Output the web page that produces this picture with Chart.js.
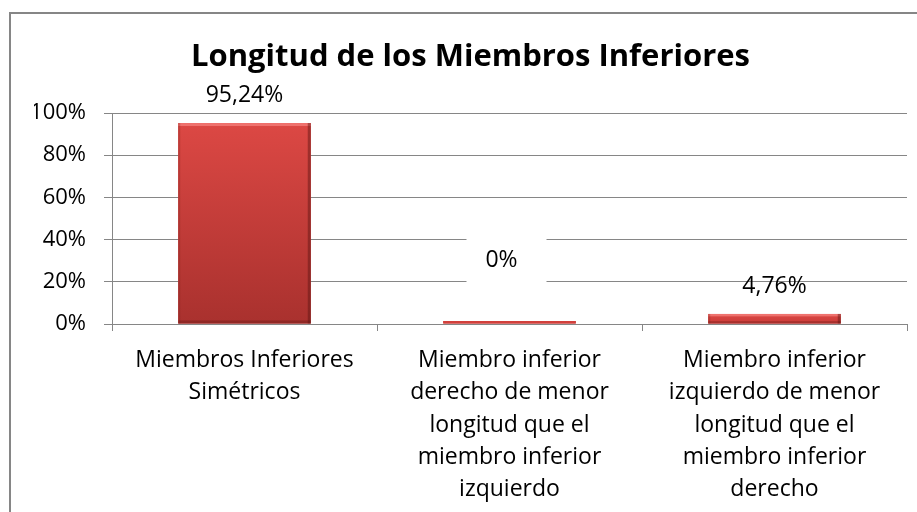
<!DOCTYPE html>
<html>
<head>
<meta charset="utf-8">
<script src="https://cdn.jsdelivr.net/npm/chart.js@4/dist/chart.umd.min.js"></script>
<style>
  html, body { margin: 0; padding: 0; background: #fff; }
  #c { display: block; }
</style>
</head>
<body>
<canvas id="c" width="917" height="512"></canvas>
<script>
const titleText = "Longitud de los Miembros Inferiores";
const categories = [
  ["Miembros Inferiores", "Simétricos"],
  ["Miembro inferior", "derecho de menor", "longitud que el", "miembro inferior", "izquierdo"],
  ["Miembro inferior", "izquierdo de menor", "longitud que el", "miembro inferior", "derecho"]
];
const values = [95.24, 0, 4.76];
const valueLabels = ["95,24%", "0%", "4,76%"];
const yTickValues = [0, 20, 40, 60, 80, 100];

const FONT = "'Open Sans', 'DejaVu Sans', sans-serif";
const GRID = "#868686";

const framePlugin = {
  id: "frame",
  beforeDraw(chart) {
    const ctx = chart.ctx;
    ctx.save();
    ctx.fillStyle = "#fff";
    ctx.fillRect(0, 0, chart.width, chart.height);
    ctx.strokeStyle = GRID;
    ctx.lineWidth = 2;
    ctx.beginPath();
    ctx.moveTo(10, chart.height + 2);
    ctx.lineTo(10, 13);
    ctx.lineTo(chart.width + 2, 13);
    ctx.stroke();
    ctx.restore();
  }
};

const bevelPlugin = {
  id: "bevel",
  afterDatasetsDraw(chart) {
    const ctx = chart.ctx;
    const meta = chart.getDatasetMeta(0);
    ctx.save();
    meta.data.forEach((bar) => {
      const p = bar.getProps(["x", "y", "base", "width"], true);
      const l = p.x - p.width / 2, r = p.x + p.width / 2;
      const t = Math.min(p.y, p.base), b = Math.max(p.y, p.base);
      const h = b - t;
      if (h < 6) {
        ctx.fillStyle = "#d2403c";
        ctx.fillRect(l, t, p.width, h);
        return;
      }
      const g = ctx.createLinearGradient(0, t, 0, b);
      g.addColorStop(0, "#dc4844");
      g.addColorStop(1, h > 40 ? "#a9312e" : "#c93b38");
      ctx.fillStyle = g;
      ctx.fillRect(l, t, p.width, h);
      const e = Math.min(3, h / 4);
      ctx.fillStyle = "rgba(255,150,145,0.55)";
      ctx.fillRect(l, t, p.width, e);
      ctx.fillStyle = "rgba(90,20,18,0.45)";
      ctx.fillRect(r - 3, t, 3, h);
      ctx.fillStyle = "rgba(90,20,18,0.3)";
      ctx.fillRect(l, b - e, p.width, e);
      ctx.fillStyle = "rgba(120,30,28,0.25)";
      ctx.fillRect(l, t, 2, h);
    });
    ctx.restore();
  }
};

const labelPlugin = {
  id: "valueLabels",
  afterDatasetsDraw(chart) {
    const ctx = chart.ctx;
    const meta = chart.getDatasetMeta(0);
    const ys = chart.scales.y;
    ctx.save();
    ctx.font = "23px " + FONT;
    ctx.fillStyle = "#000";
    ctx.textAlign = "center";
    ctx.textBaseline = "middle";
    meta.data.forEach((bar, i) => {
      if (values[i] === 0) {
        const top = ys.getPixelForValue(41.5), bot = ys.getPixelForValue(18.5);
        ctx.fillStyle = "#fff";
        ctx.fillRect(bar.x - 43, top, 80, bot - top);
        ctx.fillStyle = "#000";
        ctx.fillText(valueLabels[i], bar.x - 8, ys.getPixelForValue(30));
      } else {
        ctx.fillText(valueLabels[i], bar.x, bar.y - 28);
      }
    });
    ctx.restore();
  }
};

new Chart(document.getElementById("c"), {
  type: "bar",
  data: {
    labels: categories,
    datasets: [{
      data: values,
      backgroundColor: "#c63d3a",
      borderWidth: 0,
      barPercentage: 0.5,
      categoryPercentage: 1.0,
      minBarLength: 3
    }]
  },
  options: {
    responsive: false,
    animation: false,
    devicePixelRatio: 1,
    layout: { padding: { left: 34, right: 10, top: 0, bottom: 0 } },
    plugins: {
      legend: { display: false },
      tooltip: { enabled: false },
      title: {
        display: true,
        text: titleText,
        color: "#000",
        font: { family: FONT, size: 31, weight: "bold", lineHeight: 1.2 },
        padding: { top: 39, bottom: 36.8 }
      }
    },
    scales: {
      x: {
        offset: true,
        grid: { offset: true, drawOnChartArea: false, drawTicks: true, tickLength: 7, color: GRID, lineWidth: 1 },
        border: { color: GRID, width: 1 },
        ticks: {
          color: "#000",
          font: { family: FONT, size: 23, lineHeight: 1.41 },
          padding: 13,
          maxRotation: 0,
          autoSkip: false
        },
        afterFit(s) { s.height = 188; }
      },
      y: {
        min: 0,
        max: 100,
        afterBuildTicks(s) { s.ticks = yTickValues.map(v => ({ value: v })); },
        grid: { color: GRID, lineWidth: 1, tickLength: 8 },
        border: { color: GRID, width: 1 },
        ticks: {
          color: "#000",
          font: { family: FONT, size: 22 },
          padding: 18,
          callback: (v) => v + "%"
        },
        afterFit(s) { s.width = 78; }
      }
    }
  },
  plugins: [framePlugin, bevelPlugin, labelPlugin]
});
</script>
</body>
</html>
